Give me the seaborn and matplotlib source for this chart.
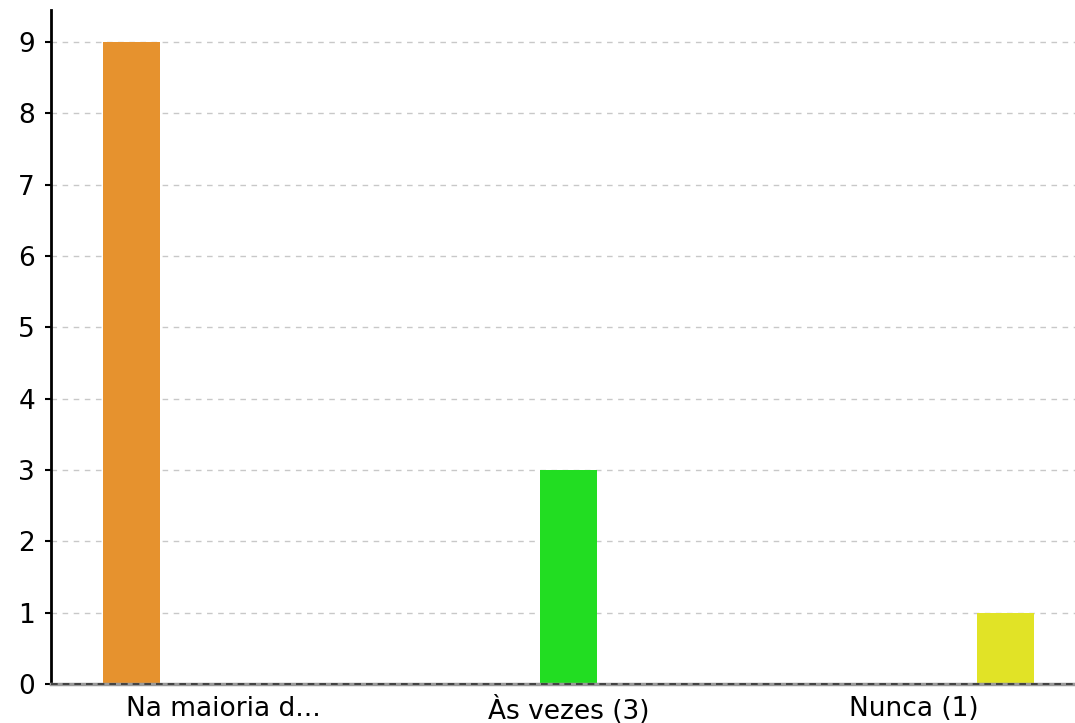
import matplotlib
matplotlib.use("Agg")
import matplotlib.pyplot as plt
import seaborn as sns
import pandas as pd

categories = ["Na maioria d...", "Às vezes (3)", "Nunca (1)"]
values = [9, 3, 1]
colors = ["#E6922E", "#22DD22", "#E1E326"]
yticks = [0, 1, 2, 3, 4, 5, 6, 7, 8, 9]

df = pd.DataFrame({"cat": categories, "val": values, "grp": categories})

sns.set_style("white")
plt.rcParams["font.family"] = ["DejaVu Sans"]
plt.rcParams["text.color"] = "black"
plt.rcParams["xtick.color"] = "black"
plt.rcParams["ytick.color"] = "black"

fig = plt.figure(figsize=(10.75, 7.23), dpi=100)
ax = fig.add_axes([51 / 1075, (723 - 684) / 723, 1024 / 1075, (684 - 10) / 723])

sns.barplot(data=df, x="cat", y="val", hue="grp", order=categories,
            hue_order=categories, palette=colors, dodge=True, width=0.8,
            gap=0.37, legend=False, ax=ax, saturation=1, edgecolor="none")

ax.set_xlim(-0.5, -0.5 + 1024 / 345)
ax.set_ylim(0, (684 - 10) / (642 / 9))
ax.set_yticks(yticks)
ax.set_xlabel("")
ax.set_ylabel("")
ax.yaxis.grid(True, linestyle=(0, (4, 4)), color="#c8c8c8", linewidth=1)
ax.set_axisbelow(True)
for s in ["top", "right"]:
    ax.spines[s].set_visible(False)
ax.spines["left"].set_color("black")
ax.spines["left"].set_linewidth(2)
ax.spines["bottom"].set_color("#999999")
ax.spines["bottom"].set_linewidth(2.5)
ax.axhline(0, color="#333333", linestyle=(0, (4, 3)), linewidth=1.2, zorder=5, clip_on=False)
ax.tick_params(axis="y", left=True, length=4.5, width=1.5, color="black",
               labelcolor="black", labelsize=19, pad=7)
ax.tick_params(axis="x", bottom=False, labelsize=19, labelcolor="black", pad=5)

fig.savefig("out.png", dpi=100)
